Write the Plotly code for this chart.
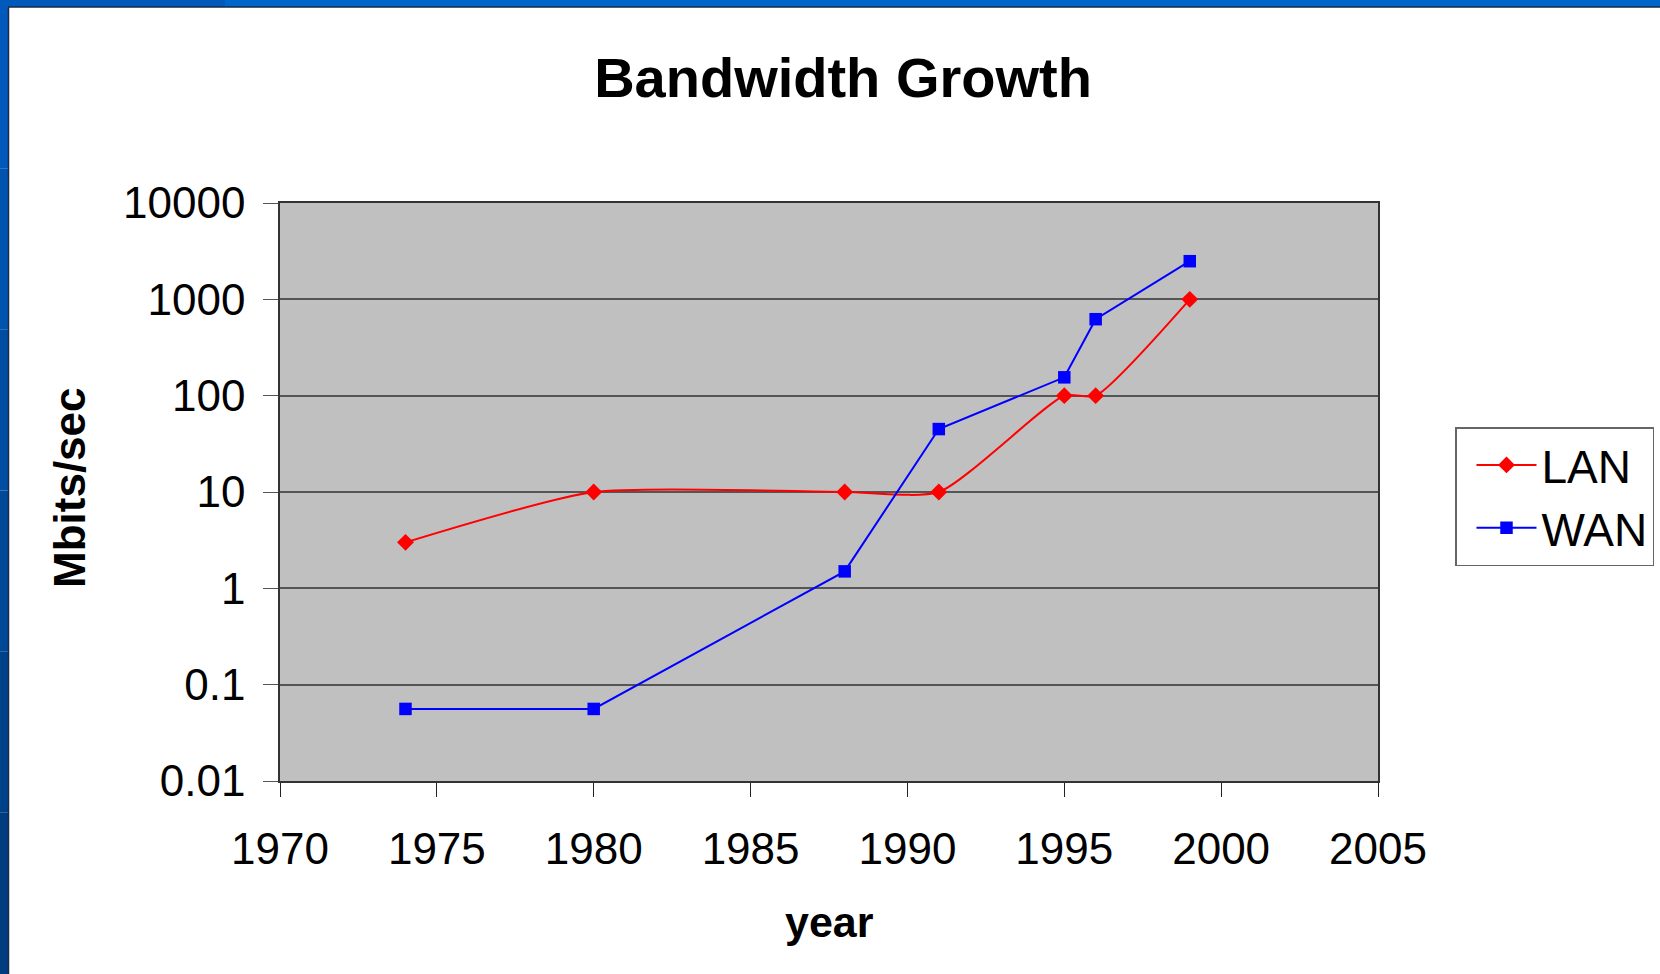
import plotly.graph_objects as go

years_lan = [1974, 1980, 1988, 1991, 1995, 1996, 1999]
lan_mbps = [3, 10, 10, 10, 100, 100, 1000]
years_wan = [1974, 1980, 1988, 1991, 1995, 1996, 1999]
wan_mbps = [0.056, 0.056, 1.5, 45, 155, 622, 2488]

y_tickvals = [0.01, 0.1, 1, 10, 100, 1000, 10000]
y_ticktext = ["0.01", "0.1", "1", "10", "100", "1000", "10000"]
x_tickvals = [1970, 1975, 1980, 1985, 1990, 1995, 2000, 2005]

W, H = 1660, 974
L, R, T, B = 280, 282, 203, 193
PW, PH = W - L - R, H - T - B


def px(x):
    return (x - L) / PW


def py(y):
    return (H - B - y) / PH


FONT = "Liberation Sans, Arial, sans-serif"

fig = go.Figure()
fig.add_trace(go.Scatter(
    x=years_lan, y=lan_mbps, name="LAN", mode="lines+markers",
    line=dict(color="#FF0000", width=2, shape="spline", smoothing=0.6),
    marker=dict(symbol="diamond", size=13, color="#FF0000", line=dict(width=0)),
))
fig.add_trace(go.Scatter(
    x=years_wan, y=wan_mbps, name="WAN", mode="lines+markers",
    line=dict(color="#0000FF", width=2),
    marker=dict(symbol="square", size=12.5, color="#0000FF", line=dict(width=0)),
))

shapes = []
# blue slide frame
shapes.append(dict(type="rect", xref="paper", yref="paper", x0=px(0), x1=px(700), y0=py(7), y1=py(0),
                   fillcolor="#0059BB", line=dict(width=0), layer="above"))
shapes.append(dict(type="rect", xref="paper", yref="paper", x0=px(225), x1=px(W), y0=py(7), y1=py(0),
                   fillcolor="#0066CC", line=dict(width=0), layer="above"))
bands = ["#0059BB", "#0054B0", "#004EA4", "#004898", "#00428A", "#003D80"]
n = len(bands)
for i, c in enumerate(bands):
    y0 = 7 + i * (H - 7) / n
    y1 = 7 + (i + 1) * (H - 7) / n
    shapes.append(dict(type="rect", xref="paper", yref="paper", x0=px(0), x1=px(8), y0=py(y1), y1=py(y0),
                       fillcolor=c, line=dict(width=0), layer="above"))
shapes.append(dict(type="line", xref="paper", yref="paper", x0=px(8), x1=px(W), y0=py(7), y1=py(7),
                   line=dict(color="#1A2A44", width=1.5), layer="above"))
shapes.append(dict(type="line", xref="paper", yref="paper", x0=px(8.5), x1=px(8.5), y0=py(7), y1=py(H),
                   line=dict(color="#1A2A44", width=1.5), layer="above"))

fig.update_layout(
    width=W, height=H,
    margin=dict(l=L, r=R, t=T, b=B, pad=0, autoexpand=False),
    paper_bgcolor="white",
    plot_bgcolor="#C0C0C0",
    font=dict(family=FONT, color="black"),
    title=dict(text="<b>Bandwidth Growth</b>", x=px(843), xanchor="center", xref="paper",
               y=1 - 77 / H, yanchor="middle", yref="container",
               font=dict(size=56, family=FONT, color="black")),
    showlegend=True,
    legend=dict(x=px(1455), y=py(427), xanchor="left", yanchor="top",
                bgcolor="white", bordercolor="#666666", borderwidth=1.5,
                font=dict(size=46, family=FONT, color="black"),
                itemwidth=60, indentation=15, tracegroupgap=0),
    shapes=shapes,
    annotations=[
        dict(text="<b>year</b>", xref="paper", yref="paper", x=px(829), y=py(922),
             xanchor="center", yanchor="middle", showarrow=False,
             font=dict(size=43, family=FONT, color="black")),
        dict(text="<b>Mbits/sec</b>", xref="paper", yref="paper", x=px(69), y=py(488),
             xanchor="center", yanchor="middle", showarrow=False, textangle=-90,
             font=dict(size=44, family=FONT, color="black")),
    ],
)

fig.update_xaxes(
    range=[1970, 2005], tickvals=x_tickvals, ticks="outside", ticklen=14, tickwidth=1.2,
    tickcolor="#222222", showgrid=False, zeroline=False,
    showline=True, linecolor="#333333", linewidth=1.5, mirror=True,
    tickfont=dict(size=44, family=FONT, color="black"), ticklabelstandoff=14,
)
fig.update_yaxes(
    type="log", range=[-2, 4], tickvals=y_tickvals, ticktext=y_ticktext,
    ticks="outside", ticklen=15, tickwidth=1.2, tickcolor="#555555",
    showgrid=True, gridcolor="#555555", gridwidth=1.5, zeroline=False,
    showline=True, linecolor="#333333", linewidth=1.5, mirror=True,
    tickfont=dict(size=44, family=FONT, color="black"), ticklabelstandoff=9,
)

fig.write_html("out.html")
